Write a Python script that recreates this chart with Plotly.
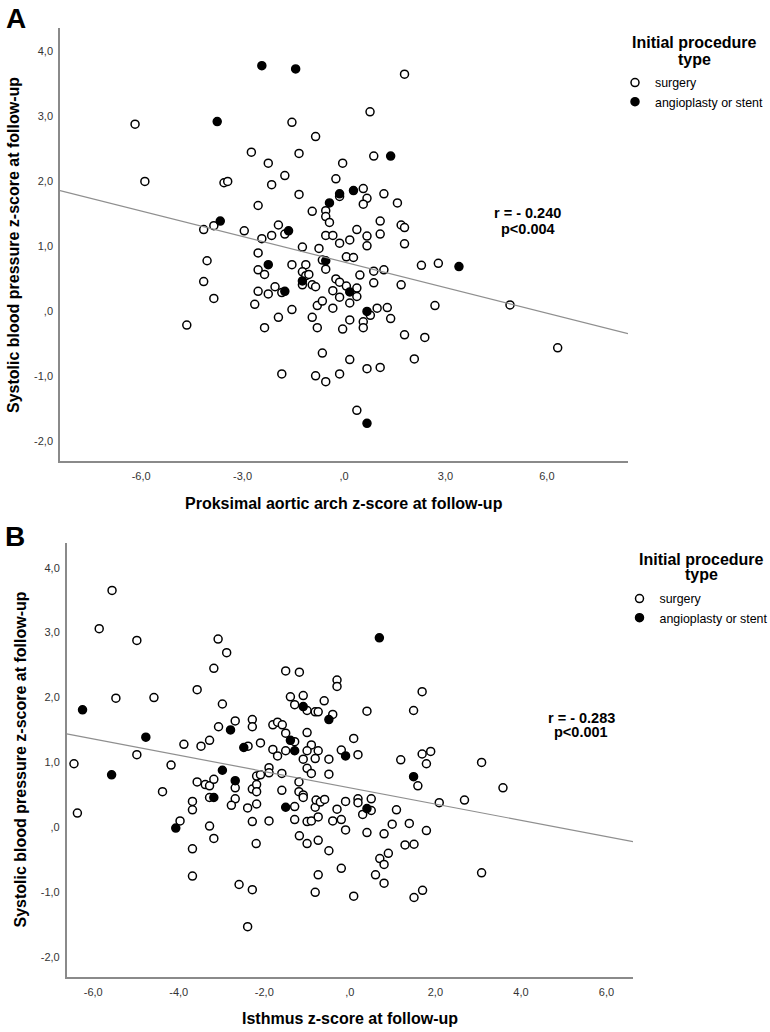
import plotly.graph_objects as go
import numpy as np

FONT = "Liberation Sans, Arial, sans-serif"

# ---------------- Panel A data ----------------
A_SURG_X = [-6.18, -1.54, -0.84, -2.74, -1.33, -2.24, -5.89, -3.55, -3.44, -1.75, -2.14, -1.33, -2.54, -0.94,
            -4.15, -3.85, -2.95, -1.94, -1.75, -2.14, -2.43, -1.23,
            1.79, 0.77, 0.88, -0.04, -0.24, -0.13, 0.57, 0.68, 0.57, 1.18, -0.54, -0.54, -0.43, 1.58, 1.07,
            1.69, 1.79, 0.38, -0.54, -0.33, 0.68, 1.07, 0.17, -0.13, 0.68, 1.79, -0.74,
            -2.54, -4.05, -1.54, -1.13, -2.54, -2.35, -1.23, -1.13, -1.04, -1.23, -4.15, -0.94, -0.84, -2.04,
            -1.84, -2.54, -2.24, -3.85, -2.64, -0.79, -1.54, -1.94, -0.94, -4.65, -2.35, -0.79, -1.84, -0.84,
            -0.64, 0.07, 0.28, -0.54, 2.29, 2.79, 1.18, 0.88, 0.47, -0.24, -0.13, 0.88, 0.07, 0.38, 0.38,
            -0.33, 1.69, -0.13, -0.64, 0.17, -0.33, 2.69, 4.91, 0.78, 0.98, 1.28, 1.38, 0.57, 0.57, 0.17,
            -0.04, 1.79, 2.39, 6.32, -0.64, 2.08, 0.17, 0.68, 1.07, -0.13, -0.54, 0.38]
A_SURG_Y = [2.87, 2.90, 2.68, 2.44, 2.42, 2.27, 1.99, 1.97, 1.99, 2.08, 1.94, 1.79, 1.62, 1.53,
            1.25, 1.31, 1.23, 1.32, 1.18, 1.16, 1.11, 0.98,
            3.64, 3.06, 2.38, 2.27, 2.03, 1.76, 1.88, 1.73, 1.64, 1.80, 1.54, 1.45, 1.36, 1.66, 1.38,
            1.32, 1.28, 1.25, 1.16, 1.16, 1.15, 1.18, 1.09, 1.04, 1.00, 1.03, 0.96,
            0.89, 0.77, 0.71, 0.71, 0.63, 0.56, 0.60, 0.54, 0.56, 0.40, 0.45, 0.40, 0.37, 0.37,
            0.28, 0.30, 0.26, 0.19, 0.10, 0.08, 0.02, -0.10, -0.10, -0.22, -0.26, -0.26, -0.97, -1.00,
            0.78, 0.83, 0.82, 0.64, 0.70, 0.73, 0.63, 0.61, 0.55, 0.49, 0.44, 0.43, 0.38, 0.35, 0.22,
            0.31, 0.40, 0.21, 0.15, 0.12, 0.04, 0.08, 0.09, -0.07, 0.04, 0.05, -0.12, -0.17, -0.26, -0.14,
            -0.28, -0.37, -0.41, -0.57, -0.65, -0.74, -0.75, -0.89, -0.87, -0.97, -1.09, -1.53]
A_ANGIO_X = [-2.43, -1.43, -3.75, 1.38, 0.28, -0.13, -0.43, -3.66, -1.64, -2.24, -1.23, -1.75, -0.54, 3.40,
             0.17, 0.68, 0.68]
A_ANGIO_Y = [3.77, 3.72, 2.91, 2.38, 1.85, 1.80, 1.66, 1.38, 1.23, 0.71, 0.46, 0.30, 0.77, 0.68,
             0.29, -0.01, -1.73]
A_FIT_INTERCEPT = 0.75
A_FIT_SLOPE = -0.131
A_R_TEXT = "r = - 0.240"
A_P_TEXT = "p&lt;0.004"

# ---------------- Panel B data ----------------
B_SURG_X = [-5.56, -5.86, -4.98, -3.08, -2.88, -3.18, -1.50, -1.18, -5.47, -4.58, -3.57, -2.98, -1.39, -1.09,
            -1.29, -1.00, -0.81, -0.74, -2.68, -2.28, -2.28, -3.07, -1.80, -1.69, -1.58, -1.50, -1.00, -1.29,
            -3.88, -3.48, -3.28, -2.09, -2.38, -0.90, -1.80, -1.69, -1.50, -1.00, -0.74, -1.09, -0.81, -4.98,
            -6.45, -4.18,
            -6.37, -2.68, -4.38, -3.57, -3.38, -3.28, -3.18, -3.28, -3.68, -3.68, -2.68, -2.77, -2.28, -2.18,
            -2.18, -2.18, -2.09, -1.89, -1.89, -1.59, -2.39, -2.18, -2.28, -1.89, -1.59, -1.29, -1.29, -1.19,
            -1.19, -1.09, -1.09, -1.00, -0.90, -1.00, -0.90, -1.18, -1.00, -0.81, -0.74, -0.74, -3.97, -3.28,
            -3.18, -2.19, -3.68, -3.68, -2.59, -2.28, -0.74, -0.81, -2.39,
            -0.30, -0.30, 1.69, -0.60, -0.40, 0.40, 1.49, 0.09, -0.20, 0.19, -0.49, 1.19, 1.69, 1.89, 1.79, 3.08,
            -0.49, 1.59, 3.58, -0.79, -0.69, -0.59, -0.10, 0.19, 0.19, 0.50, 0.50, 0.30, -0.30, 1.09, 2.09,
            2.68, -0.40, -0.20, -0.10, 0.40, 0.80, 0.99, 1.39, 1.79, -0.49, 1.29, 1.50, 0.70, 0.90, 0.80,
            -0.20, 0.60, 0.80, 3.08, 0.09, 1.50, 1.70]
B_SURG_Y = [3.65, 3.06, 2.88, 2.90, 2.69, 2.45, 2.41, 2.39, 1.99, 2.00, 2.12, 1.90, 2.01, 2.03,
            1.89, 1.80, 1.78, 1.78, 1.64, 1.66, 1.55, 1.55, 1.58, 1.62, 1.58, 1.45, 1.46, 1.32,
            1.28, 1.25, 1.34, 1.30, 1.25, 1.27, 1.20, 1.10, 1.18, 1.18, 1.18, 1.05, 1.06, 1.12,
            0.98, 0.96,
            0.22, 0.61, 0.55, 0.70, 0.66, 0.64, 0.74, 0.46, 0.40, 0.27, 0.44, 0.34, 0.59, 0.66,
            0.55, 0.79, 0.81, 0.92, 0.84, 0.83, 0.30, 0.36, 0.09, 0.10, 0.57, 0.32, 0.12, 0.70,
            0.55, 0.50, 0.46, 0.91, 0.83, 0.09, 0.10, -0.13, -0.25, 0.31, 0.16, -0.20, 0.10, 0.02,
            -0.17, -0.25, -0.33, -0.75, -0.88, -0.96, -0.73, -1.00, -1.53,
            2.27, 2.17, 2.09, 1.95, 1.74, 1.79, 1.80, 1.37, 1.19, 1.12, 1.05, 1.04, 1.13, 1.17, 0.98, 1.00,
            0.82, 0.64, 0.61, 0.42, 0.39, 0.43, 0.40, 0.44, 0.38, 0.44, 0.26, 0.20, 0.28, 0.27, 0.38,
            0.42, 0.10, 0.12, -0.04, -0.08, -0.10, 0.05, 0.06, -0.05, -0.36, -0.27, -0.26, -0.48, -0.40, -0.57,
            -0.63, -0.73, -0.86, -0.70, -1.06, -1.08, -0.97]
B_ANGIO_X = [-6.25, -4.77, -2.79, -2.48, -1.39, -1.29, -1.09, -5.57, -2.98, -2.68, -3.18, -4.07, -1.50,
             0.69, -0.49, -0.10, 1.49, 0.40]
B_ANGIO_Y = [1.81, 1.39, 1.50, 1.23, 1.34, 1.18, 1.86, 0.81, 0.88, 0.72, 0.46, -0.01, 0.31,
             2.92, 1.66, 1.10, 0.78, 0.29]
B_FIT_INTERCEPT = 0.61
B_FIT_SLOPE = -0.1254
B_R_TEXT = "r = - 0.283"
B_P_TEXT = "p&lt;0.001"

# ---------------- Axes / labels ----------------
A_XRANGE = [-8.4, 8.4]
A_YRANGE = [-2.31, 4.35]
B_XRANGE = [-6.62, 6.62]
B_YRANGE = [-2.30, 4.38]
A_XTICKS = [-6, -3, 0, 3, 6]
A_XTICKTEXT = ["-6,0", "-3,0", ",0", "3,0", "6,0"]
B_XTICKS = [-6, -4, -2, 0, 2, 4, 6]
B_XTICKTEXT = ["-6,0", "-4,0", "-2,0", ",0", "2,0", "4,0", "6,0"]
YTICKS = [-2, -1, 0, 1, 2, 3, 4]
YTICKTEXT = ["-2,0", "-1,0", ",0", "1,0", "2,0", "3,0", "4,0"]
Y_TITLE = "Systolic blood pressure z-score at follow-up"
A_X_TITLE = "Proksimal aortic arch z-score at follow-up"
B_X_TITLE = "Isthmus z-score at follow-up"
LEGEND_TITLE_LINES = ["Initial procedure", "type"]
GROUPS = ["surgery", "angioplasty or stent"]

W, H = 770, 1032


def px(x):
    return x / W


def py(y):
    return 1 - y / H


fig = go.Figure()

open_marker = dict(symbol="circle", size=8, color="white", line=dict(color="black", width=1.5))
fill_marker = dict(symbol="circle", size=8, color="black", line=dict(color="black", width=1.5))

# Panel A
fig.add_trace(go.Scatter(x=A_SURG_X, y=A_SURG_Y, mode="markers", marker=open_marker, name=GROUPS[0],
                         xaxis="x", yaxis="y", legend="legend"))
fig.add_trace(go.Scatter(x=A_ANGIO_X, y=A_ANGIO_Y, mode="markers", marker=fill_marker, name=GROUPS[1],
                         xaxis="x", yaxis="y", legend="legend"))
ax = np.array(A_XRANGE)
fig.add_trace(go.Scatter(x=ax, y=A_FIT_INTERCEPT + A_FIT_SLOPE * ax, mode="lines",
                         line=dict(color="#8f8f8f", width=1.2), showlegend=False, xaxis="x", yaxis="y",
                         hoverinfo="skip"))

# Panel B
fig.add_trace(go.Scatter(x=B_SURG_X, y=B_SURG_Y, mode="markers", marker=open_marker, name=GROUPS[0],
                         xaxis="x2", yaxis="y2", legend="legend2"))
fig.add_trace(go.Scatter(x=B_ANGIO_X, y=B_ANGIO_Y, mode="markers", marker=fill_marker, name=GROUPS[1],
                         xaxis="x2", yaxis="y2", legend="legend2"))
bx = np.array(B_XRANGE)
fig.add_trace(go.Scatter(x=bx, y=B_FIT_INTERCEPT + B_FIT_SLOPE * bx, mode="lines",
                         line=dict(color="#8f8f8f", width=1.2), showlegend=False, xaxis="x2", yaxis="y2",
                         hoverinfo="skip"))

axis_common = dict(showline=True, linecolor="#8a8a8a", linewidth=1.5, showgrid=False, zeroline=False,
                   ticks="", tickfont=dict(family=FONT, size=11, color="#333333"), mirror=False)

legend_common = dict(
    xanchor="left", yanchor="top", bgcolor="rgba(0,0,0,0)",
    font=dict(family=FONT, size=12.4, color="black"),
    tracegroupgap=0,
)

fig.update_layout(
    width=W, height=H, margin=dict(l=0, r=0, t=0, b=0, autoexpand=False),
    paper_bgcolor="white", plot_bgcolor="white",
    font=dict(family=FONT, color="black"),
    xaxis=dict(domain=[px(60), px(628)], anchor="y", range=A_XRANGE, tickvals=A_XTICKS,
               ticktext=A_XTICKTEXT, ticklabelstandoff=4, **axis_common),
    yaxis=dict(domain=[py(461), py(28)], anchor="x", range=A_YRANGE, tickvals=YTICKS,
               ticktext=YTICKTEXT, ticklabelstandoff=3, **axis_common),
    xaxis2=dict(domain=[px(66.7), px(633)], anchor="y2", range=B_XRANGE, tickvals=B_XTICKS,
                ticktext=B_XTICKTEXT, ticklabelstandoff=4, **axis_common),
    yaxis2=dict(domain=[py(976.7), py(543)], anchor="x2", range=B_YRANGE, tickvals=YTICKS,
                ticktext=YTICKTEXT, ticklabelstandoff=3, **axis_common),
    legend=dict(x=px(615), y=py(68), **legend_common),
    legend2=dict(x=px(619.5), y=py(584), **legend_common),
    showlegend=True,
)

ann_bold = dict(family=FONT, color="black")
annotations = [
    dict(text="<b>A</b>", x=px(16), y=py(18), xanchor="center", yanchor="middle", font=dict(size=28, **ann_bold)),
    dict(text="<b>B</b>", x=px(15), y=py(536), xanchor="center", yanchor="middle", font=dict(size=28, **ann_bold)),
    dict(text="<b>" + Y_TITLE + "</b>", x=px(14), y=py(245), textangle=-90, xanchor="center", yanchor="middle",
         font=dict(size=16, **ann_bold)),
    dict(text="<b>" + Y_TITLE + "</b>", x=px(19.5), y=py(760), textangle=-90, xanchor="center", yanchor="middle",
         font=dict(size=16, **ann_bold)),
    dict(text="<b>" + A_X_TITLE + "</b>", x=px(344), y=py(503), xanchor="center", yanchor="middle",
         font=dict(size=16, **ann_bold)),
    dict(text="<b>" + B_X_TITLE + "</b>", x=px(350), y=py(1018), xanchor="center", yanchor="middle",
         font=dict(size=16, **ann_bold)),
    dict(text="<b>" + A_R_TEXT + "</b>", x=px(527.5), y=py(213), xanchor="center", yanchor="middle",
         font=dict(size=14.5, **ann_bold)),
    dict(text="<b>" + A_P_TEXT + "</b>", x=px(527.5), y=py(229), xanchor="center", yanchor="middle",
         font=dict(size=14.5, **ann_bold)),
    dict(text="<b>" + B_R_TEXT + "</b>", x=px(581), y=py(717.7), xanchor="center", yanchor="middle",
         font=dict(size=14.5, **ann_bold)),
    dict(text="<b>" + B_P_TEXT + "</b>", x=px(581), y=py(732), xanchor="center", yanchor="middle",
         font=dict(size=14.5, **ann_bold)),
    # legend titles
    dict(text="<b>" + LEGEND_TITLE_LINES[0] + "</b>", x=px(694.5), y=py(43), xanchor="center", yanchor="middle",
         font=dict(size=16, **ann_bold)),
    dict(text="<b>" + LEGEND_TITLE_LINES[1] + "</b>", x=px(694.5), y=py(60), xanchor="center", yanchor="middle",
         font=dict(size=16, **ann_bold)),
    dict(text="<b>" + LEGEND_TITLE_LINES[0] + "</b>", x=px(701.5), y=py(559), xanchor="center", yanchor="middle",
         font=dict(size=16, **ann_bold)),
    dict(text="<b>" + LEGEND_TITLE_LINES[1] + "</b>", x=px(701.5), y=py(574), xanchor="center", yanchor="middle",
         font=dict(size=16, **ann_bold)),
]
for a in annotations:
    a.update(xref="paper", yref="paper", showarrow=False)
fig.update_layout(annotations=annotations)

fig.write_html("out.html")
